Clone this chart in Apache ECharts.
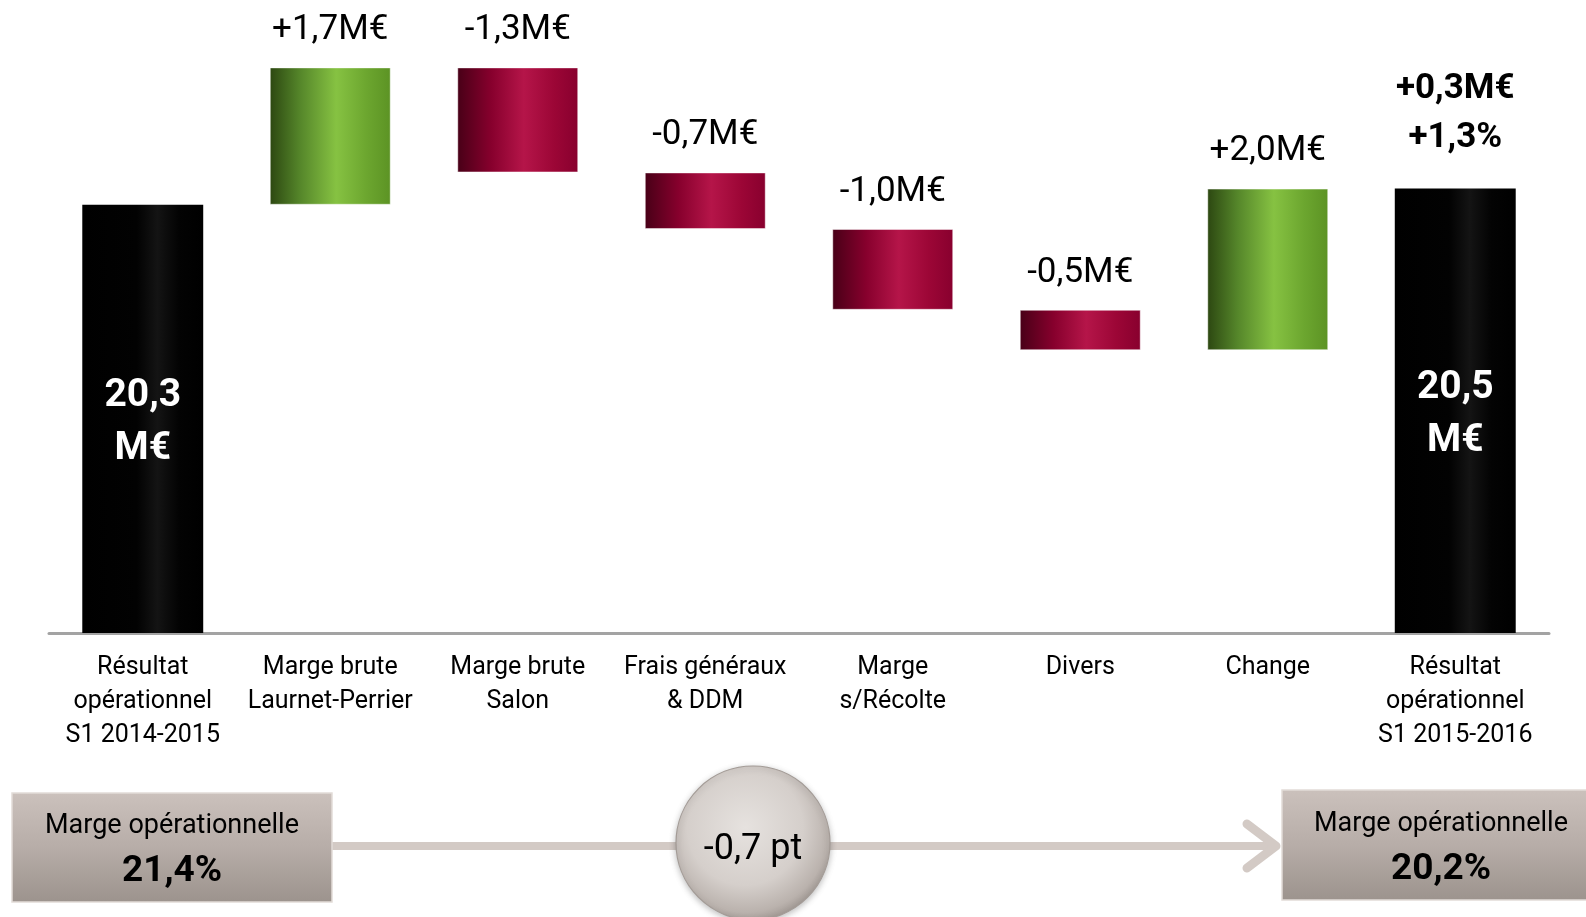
<!DOCTYPE html>
<html>
<head>
<meta charset="utf-8">
<title>Résultat opérationnel S1</title>
<script src="https://cdn.jsdelivr.net/npm/echarts@6/dist/echarts.min.js"></script>
<style>
  html, body { margin: 0; padding: 0; background: #ffffff; }
  #chart { width: 1586px; height: 917px; }
</style>
</head>
<body>
<div id="chart"></div>
<script>
// Bridge of the operating result between the two half-years (M€)
const categories = [
  'Résultat\nopérationnel\nS1 2014-2015',
  'Marge brute\nLaurnet-Perrier',
  'Marge brute\nSalon',
  'Frais généraux\n& DDM',
  'Marge\ns/Récolte',
  'Divers',
  'Change',
  'Résultat\nopérationnel\nS1 2015-2016'
];
const openingResult = 20.3;
const variations = [1.7, -1.3, -0.7, -1.0, -0.5, 2.0];
const closingResult = 20.5;
const totalChangeText = ['+0,3M€', '+1,3%'];

// Operating margin before / after
const marginTitle = 'Marge opérationnelle';
const marginBefore = '21,4%';
const marginAfter = '20,2%';
const marginChange = '-0,7 pt';

const FONT = "Roboto, 'Liberation Sans', sans-serif";
const G = echarts.graphic;

function fr(v) { return v.toFixed(1).replace('.', ','); }
function round1(v) { return Math.round(v * 10) / 10; }

const greenFill = new G.LinearGradient(0, 0, 1, 0, [
  { offset: 0, color: '#2c4711' },
  { offset: 0.25, color: '#55862a' },
  { offset: 0.55, color: '#86c242' },
  { offset: 0.8, color: '#6ca62f' },
  { offset: 1, color: '#5c9324' }
]);
const redFill = new G.LinearGradient(0, 0, 1, 0, [
  { offset: 0, color: '#480017' },
  { offset: 0.28, color: '#87002d' },
  { offset: 0.55, color: '#b51549' },
  { offset: 0.8, color: '#9c0636' },
  { offset: 1, color: '#88002e' }
]);
const blackFill = new G.LinearGradient(0, 0, 1, 0, [
  { offset: 0, color: '#000000' },
  { offset: 0.45, color: '#020202' },
  { offset: 0.62, color: '#141414' },
  { offset: 0.8, color: '#030303' },
  { offset: 1, color: '#000000' }
]);

const totalLabel = {
  position: 'inside', color: '#ffffff', fontWeight: 'bold', fontSize: 39, lineHeight: 53, offset: [0, 4]
};

// Waterfall: invisible base + visible span
const baseData = [];
const spanData = [];
let running = openingResult;
baseData.push(0);
spanData.push({
  value: openingResult,
  itemStyle: { color: blackFill },
  label: Object.assign({ formatter: fr(openingResult) + '\nM€' }, totalLabel)
});
variations.forEach(function (d) {
  const next = round1(running + d);
  baseData.push(Math.min(running, next));
  spanData.push({
    value: Math.abs(d),
    itemStyle: { color: d >= 0 ? greenFill : redFill, borderColor: 'rgba(255,255,255,0.45)', borderWidth: 1 },
    label: { position: 'top', distance: 17, formatter: (d >= 0 ? '+' : '-') + fr(Math.abs(d)) + 'M€',
             color: '#000000', fontSize: 35, lineHeight: 40 }
  });
  running = next;
});
baseData.push(0);
spanData.push({
  value: closingResult,
  itemStyle: { color: blackFill },
  label: Object.assign({ formatter: fr(closingResult) + '\nM€' }, totalLabel)
});

const totalMarker = categories.map(function (c, i) { return i === categories.length - 1 ? closingResult : null; });

const chart = echarts.init(document.getElementById('chart'), null, { renderer: 'canvas' });

const boxFill = function () {
  return new G.LinearGradient(0, 0, 0, 1, [
    { offset: 0, color: '#cbc1bc' },
    { offset: 0.5, color: '#b7ada8' },
    { offset: 1, color: '#9c938d' }
  ]);
};
const guide = '#d3cac5';

chart.setOption({
  animation: false,
  backgroundColor: '#ffffff',
  textStyle: { fontFamily: FONT },
  grid: { left: 49, right: 37, top: 27, bottom: 284, containLabel: false },
  xAxis: {
    type: 'category',
    data: categories,
    axisLine: { show: true, lineStyle: { color: '#a3a3a3', width: 3 } },
    axisTick: { show: false },
    axisLabel: { color: '#000000', fontSize: 25, lineHeight: 34, margin: 18, interval: 0, fontFamily: FONT }
  },
  yAxis: {
    type: 'value',
    min: 15,
    max: 22.5,
    show: false,
    splitLine: { show: false }
  },
  series: [
    {
      name: 'base',
      type: 'bar',
      stack: 'bridge',
      silent: true,
      barWidth: '64.5%',
      itemStyle: { color: 'rgba(0,0,0,0)' },
      data: baseData
    },
    {
      name: 'variation',
      type: 'bar',
      stack: 'bridge',
      barWidth: '64.5%',
      label: { show: true, fontFamily: FONT },
      data: spanData
    },
    {
      name: 'total',
      type: 'scatter',
      symbolSize: 0,
      silent: true,
      itemStyle: { opacity: 1 },
      label: {
        show: true, position: 'top', distance: 26, opacity: 1,
        formatter: totalChangeText.join('\n'),
        color: '#000000', fontWeight: 'bold', fontSize: 35, lineHeight: 49, fontFamily: FONT
      },
      data: totalMarker
    }
  ],
  graphic: [
    { type: 'line', silent: true, shape: { x1: 330, y1: 846, x2: 1274, y2: 846 },
      style: { stroke: guide, lineWidth: 8 } },
    { type: 'polyline', silent: true, shape: { points: [[1247, 824], [1276, 846], [1247, 868]] },
      style: { stroke: guide, lineWidth: 9, lineCap: 'round', lineJoin: 'round', fill: null } },
    { type: 'rect', silent: true, shape: { x: 12, y: 793, width: 320, height: 109 },
      style: { fill: boxFill(), stroke: '#e2dcd8', lineWidth: 1.5 } },
    { type: 'rect', silent: true, shape: { x: 1282, y: 790, width: 320, height: 110 },
      style: { fill: boxFill(), stroke: '#e2dcd8', lineWidth: 1.5 } },
    { type: 'circle', silent: true, shape: { cx: 753, cy: 843, r: 77 },
      style: {
        fill: new G.RadialGradient(0.45, 0.4, 0.62, [
          { offset: 0, color: '#e6e2df' },
          { offset: 0.6, color: '#d5cfcb' },
          { offset: 0.88, color: '#bab2ad' },
          { offset: 1, color: '#9f9792' }
        ]),
        stroke: '#a39b96', lineWidth: 1.2,
        shadowBlur: 6, shadowColor: 'rgba(0,0,0,0.25)', shadowOffsetY: 2
      } },
    { type: 'text', silent: true, style: { text: marginTitle, x: 172, y: 826, align: 'center', verticalAlign: 'middle',
      fill: '#000000', fontSize: 27, fontFamily: FONT } },
    { type: 'text', silent: true, style: { text: marginBefore, x: 172, y: 872, align: 'center', verticalAlign: 'middle',
      fill: '#000000', fontSize: 37, fontWeight: 'bold', fontFamily: FONT } },
    { type: 'text', silent: true, style: { text: marginTitle, x: 1441, y: 824, align: 'center', verticalAlign: 'middle',
      fill: '#000000', fontSize: 27, fontFamily: FONT } },
    { type: 'text', silent: true, style: { text: marginAfter, x: 1441, y: 870, align: 'center', verticalAlign: 'middle',
      fill: '#000000', fontSize: 37, fontWeight: 'bold', fontFamily: FONT } },
    { type: 'text', silent: true, style: { text: marginChange, x: 753, y: 850, align: 'center', verticalAlign: 'middle',
      fill: '#000000', fontSize: 36, fontFamily: FONT } }
  ]
});
</script>
</body>
</html>
